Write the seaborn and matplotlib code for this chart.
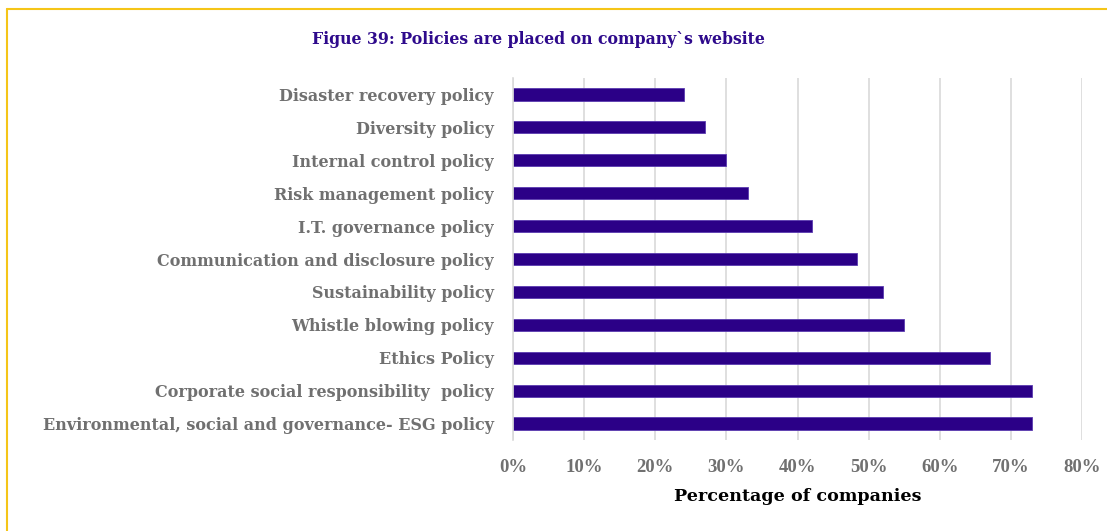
import matplotlib
matplotlib.use("Agg")
import matplotlib.pyplot as plt
import seaborn as sns
import pandas as pd
from matplotlib.ticker import FuncFormatter, MultipleLocator
from matplotlib.lines import Line2D

# Share of companies publishing each policy on their website (%)
policies = [
    "Disaster recovery policy",
    "Diversity policy",
    "Internal control policy",
    "Risk management policy",
    "I.T. governance policy",
    "Communication and disclosure policy",
    "Sustainability policy",
    "Whistle blowing policy",
    "Ethics Policy",
    "Corporate social responsibility  policy",
    "Environmental, social and governance- ESG policy",
]
shares = [24, 27, 30, 33, 42, 48.4, 52, 55, 67, 73, 73]

title_text = "Figue 39: Policies are placed on company`s website"
xlabel_text = "Percentage of companies"

df = pd.DataFrame({"policy": policies, "share": shares})

sns.set_theme(style="white")
plt.rcParams["font.family"] = ["DejaVu Serif"]

BAR = "#2B0087"
TICK_GREY = "#707070"
GRID = "#D9D9D9"
GOLD = "#F5C518"

fig = plt.figure(figsize=(11.07, 5.31), dpi=100)
ax = fig.add_axes([513 / 1107, 1 - 440 / 531, (1082 - 513) / 1107, (440 - 78) / 531])

sns.barplot(data=df, x="share", y="policy", order=policies, color=BAR,
            width=0.37, ax=ax, saturation=1, edgecolor="#5A3AB0", linewidth=0.6)

ax.set_xlim(0, 80)
ax.xaxis.set_major_locator(MultipleLocator(10))
ax.xaxis.set_major_formatter(FuncFormatter(lambda v, p: f"{v:.0f}%"))
ax.grid(axis="x", color=GRID, linewidth=1.2)
ax.grid(axis="y", visible=False)
ax.set_axisbelow(True)
for s in ["top", "right", "bottom"]:
    ax.spines[s].set_visible(False)
ax.spines["left"].set_color(GRID)
ax.spines["left"].set_linewidth(1.2)
ax.tick_params(axis="both", length=0)
ax.tick_params(axis="x", pad=14)
ax.tick_params(axis="y", pad=14)

for lbl in ax.get_xticklabels():
    lbl.set_fontweight("bold")
    lbl.set_color(TICK_GREY)
    lbl.set_fontsize(13.5)
    lbl.set_fontfamily("Liberation Serif")
for lbl in ax.get_yticklabels():
    lbl.set_fontweight("bold")
    lbl.set_color(TICK_GREY)
    lbl.set_fontsize(11.55)
    lbl.set_va("center_baseline")

ax.set_ylabel("")
ax.set_xlabel(xlabel_text, fontsize=12.6, fontweight="bold", color="black", labelpad=8)

fig.text(538 / 1107, 1 - 40 / 531, title_text, ha="center", va="center",
         fontsize=11.3, fontweight="bold", color="#2E0A8C")

# gold frame along top and left edges
fig.add_artist(Line2D([7 / 1107, 1], [1 - 9 / 531, 1 - 9 / 531], transform=fig.transFigure,
                      color=GOLD, linewidth=1.5))
fig.add_artist(Line2D([7 / 1107, 7 / 1107], [0, 1 - 9 / 531], transform=fig.transFigure,
                      color=GOLD, linewidth=1.5))

fig.savefig("out.png", dpi=100, facecolor="white")
